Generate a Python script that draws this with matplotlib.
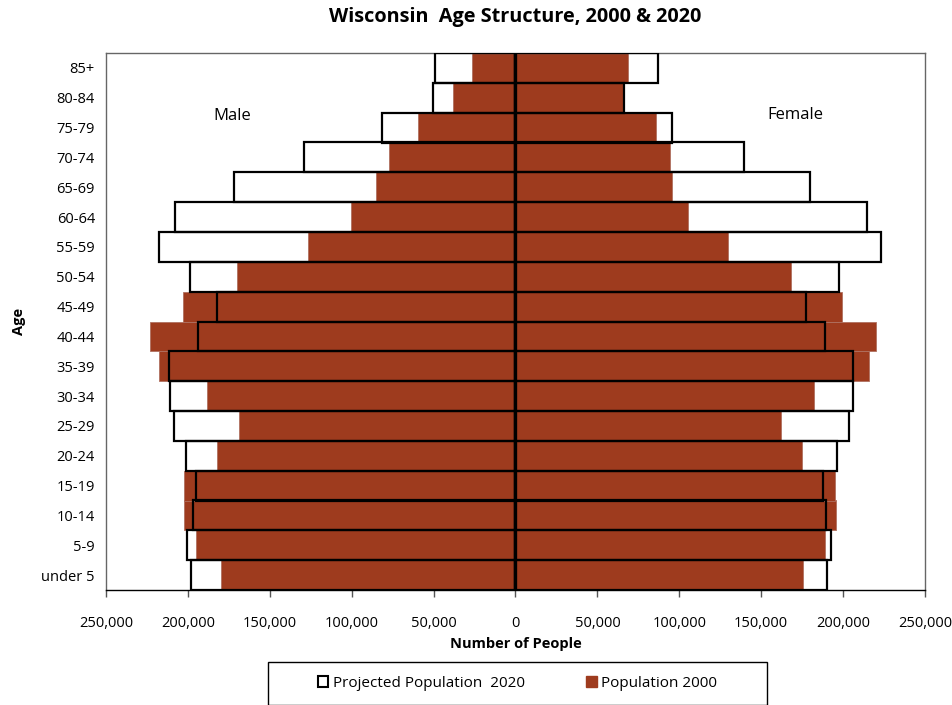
import matplotlib
matplotlib.use("Agg")
import matplotlib.pyplot as plt
from matplotlib.patches import Patch, Rectangle
from matplotlib.ticker import FuncFormatter, MultipleLocator

plt.rcParams['font.family'] = ['Open Sans', 'DejaVu Sans']

ages = ["under 5", "5-9", "10-14", "15-19", "20-24", "25-29", "30-34", "35-39",
        "40-44", "45-49", "50-54", "55-59", "60-64", "65-69", "70-74", "75-79",
        "80-84", "85+"]

male_2000 = [179600, 195000, 202600, 202600, 182200, 168600, 188300, 217800,
             223300, 203000, 170000, 126900, 100500, 84900, 77300, 59300,
             37900, 26300]
male_2020 = [197900, 200300, 197100, 195000, 200900, 208200, 211100, 211700,
             193800, 182200, 198900, 217800, 207600, 172100, 129100, 81400,
             50500, 49100]
female_2000 = [175300, 188900, 195400, 194800, 174900, 161900, 182000, 215700,
               219800, 199300, 168000, 129800, 105400, 95600, 94200, 85500,
               66400, 68800]
female_2020 = [189900, 192600, 189300, 187900, 196000, 203500, 206000, 206000,
               188700, 177100, 197500, 222900, 214300, 180000, 139500, 95800,
               66000, 87300]

brown = "#9E3B1E"

fig = plt.figure(figsize=(9.53, 7.05), dpi=100)
ax = fig.add_axes([106/953, 1-590/705, (925-106)/953, (590-53)/705])

y = list(range(len(ages)))
m20 = [-v for v in male_2020]
m00 = [-v for v in male_2000]

# white fills of projected bars
ax.barh(y, m20, height=1.0, color="white", edgecolor="none", zorder=1)
ax.barh(y, female_2020, height=1.0, color="white", edgecolor="none", zorder=1)
# 2000 bars
ax.barh(y, m00, height=1.0, color=brown, edgecolor="#b07060", linewidth=0.6, zorder=2)
ax.barh(y, female_2000, height=1.0, color=brown, edgecolor="#b07060", linewidth=0.6, zorder=2)
# outlines of projected bars
ax.barh(y, m20, height=1.0, fill=False, edgecolor="black", linewidth=1.6, zorder=3)
ax.barh(y, female_2020, height=1.0, fill=False, edgecolor="black", linewidth=1.6, zorder=3)

ax.axvline(0, color="black", linewidth=2.4, zorder=4)

ax.set_xlim(-250000, 250000)
ax.set_ylim(-0.5, len(ages) - 0.5)
ax.xaxis.set_major_locator(MultipleLocator(50000))
ax.xaxis.set_major_formatter(FuncFormatter(lambda v, p: f"{abs(int(v)):,}"))
ax.set_yticks(y)
ax.set_yticklabels(ages)
ax.tick_params(axis="y", length=0, labelsize=10.5, pad=8)
ax.tick_params(axis="x", length=5, width=1, color="#555555", labelsize=10.5, pad=14, direction="out")
for s in ax.spines.values():
    s.set_color("#666666")
    s.set_linewidth(1)
ax.spines["bottom"].set_color("black")

ax.set_xlabel("Number of People", fontsize=10.5, fontweight="bold", labelpad=4)
ax.set_ylabel("Age", fontsize=10.5, fontweight="bold", labelpad=11)

fig.text(515/953, 1-17/705, "Wisconsin  Age Structure, 2000 & 2020", ha="center", va="center",
         fontsize=14.3, fontweight="bold")

fig.text(232/953, 1-116/705, "Male", ha="center", va="center", fontsize=12)
fig.text(795/953, 1-115/705, "Female", ha="center", va="center", fontsize=12)

# legend box
fig.add_artist(Rectangle((268/953, 0), (767-268)/953, (705-662)/705, transform=fig.transFigure,
                         fill=False, edgecolor="black", linewidth=1.0))
handles = [Patch(facecolor="white", edgecolor="black", linewidth=1.5, label="Projected Population  2020"),
           Patch(facecolor=brown, edgecolor=brown, label="Population 2000")]
fig.legend(handles=handles, loc="center", ncol=2,
           bbox_to_anchor=(268/953, 0, (767-268)/953, (705-662)/705),
           frameon=False, fontsize=11,
           handlelength=0.7, handleheight=0.7, handletextpad=0.3,
           columnspacing=4.0, borderaxespad=0)

fig.savefig("out.png", dpi=100)
